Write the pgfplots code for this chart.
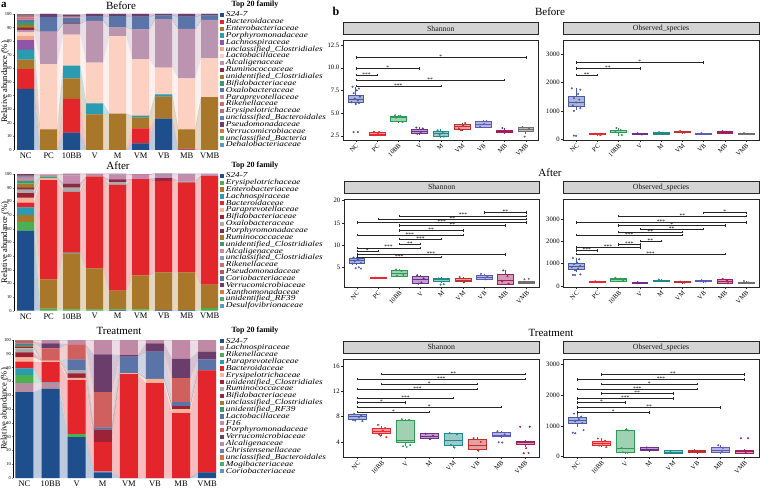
\documentclass[border=0pt]{standalone}
\usepackage{fontspec}
\setmainfont{Liberation Serif}
\newfontfamily\legfont[FakeStretch=1.22]{Liberation Serif}
\usepackage{pgfplots}
\pgfplotsset{compat=1.18}
\usepgfplotslibrary{statistics}

% ---------- colours ----------
\definecolor{B1}{HTML}{1F4E8C}\definecolor{B2}{HTML}{E3262B}\definecolor{B3}{HTML}{A8772A}\definecolor{B4}{HTML}{2A9BB0}
\definecolor{B5}{HTML}{8E55A8}\definecolor{B6}{HTML}{F4A58A}\definecolor{B7}{HTML}{FCD1C2}\definecolor{B8}{HTML}{B995B0}
\definecolor{B9}{HTML}{8B2A45}\definecolor{B10}{HTML}{A57A2A}\definecolor{B11}{HTML}{3A9B6A}\definecolor{B12}{HTML}{5B74A8}
\definecolor{B13}{HTML}{C58AAE}\definecolor{B14}{HTML}{C76F6F}\definecolor{B15}{HTML}{B86E7F}\definecolor{B16}{HTML}{6B7FB5}
\definecolor{B17}{HTML}{6A3D6A}\definecolor{B18}{HTML}{D9763A}\definecolor{B19}{HTML}{4CAF6A}\definecolor{B20}{HTML}{5A9BC0}
\definecolor{A1}{HTML}{1F4E8C}\definecolor{A2}{HTML}{4CB050}\definecolor{A3}{HTML}{A8772A}\definecolor{A4}{HTML}{2A9BB0}
\definecolor{A5}{HTML}{E3262B}\definecolor{A6}{HTML}{F8B49A}\definecolor{A7}{HTML}{9B2335}\definecolor{A8}{HTML}{ABABAB}
\definecolor{A9}{HTML}{8B2A45}\definecolor{A10}{HTML}{A57A2A}\definecolor{A11}{HTML}{3A9B6A}\definecolor{A12}{HTML}{C58AAE}
\definecolor{A13}{HTML}{8A9AB8}\definecolor{A14}{HTML}{C76F6F}\definecolor{A15}{HTML}{B85565}\definecolor{A16}{HTML}{5B74A8}
\definecolor{A17}{HTML}{6A3D6A}\definecolor{A18}{HTML}{D9763A}\definecolor{A19}{HTML}{4CAF6A}\definecolor{A20}{HTML}{5A9BC0}
\definecolor{T1}{HTML}{1F4E8C}\definecolor{T2}{HTML}{B98CA0}\definecolor{T3}{HTML}{4CB050}\definecolor{T4}{HTML}{2A9BB0}
\definecolor{T5}{HTML}{E3262B}\definecolor{T6}{HTML}{F8B49A}\definecolor{T7}{HTML}{9B2335}\definecolor{T8}{HTML}{ABABAB}
\definecolor{T9}{HTML}{8B2A45}\definecolor{T10}{HTML}{A57A2A}\definecolor{T11}{HTML}{3A9B6A}\definecolor{T12}{HTML}{5B74A8}
\definecolor{T13}{HTML}{C58AAE}\definecolor{T14}{HTML}{D0605E}\definecolor{T15}{HTML}{6A3D6A}\definecolor{T16}{HTML}{C08AA6}
\definecolor{T17}{HTML}{6B7FB5}\definecolor{T18}{HTML}{D9763A}\definecolor{T19}{HTML}{4CAF6A}\definecolor{T20}{HTML}{5A9BC0}
\definecolor{cbA}{HTML}{4A5AA8}\definecolor{cbB}{HTML}{E8282B}\definecolor{cbC}{HTML}{2E9A57}
\definecolor{cbD}{HTML}{6E2E8E}\definecolor{cbE}{HTML}{1E8A8A}\definecolor{cbF}{HTML}{C0302E}
\definecolor{cbG}{HTML}{5C5CB8}\definecolor{cbH}{HTML}{A0205E}\definecolor{cbI}{HTML}{6F6F6F}

% ---------- panel a data (relative abundance, %) ----------
% Before: NC,PC,10BB,V,M,VM,VB,MB,VMB
\def\BfA{45,0,12.7,0,0,4.9,23,0.3,0}
\def\BfB{14.5,0,24.8,0,0,11,0,0.7,0}
\def\BfC{7,15.2,15.2,26.2,26.7,8.1,16.2,14.2,38.8}
\def\BfD{7.3,0,9.3,8.1,0,1.2,1.7,0,0}
\def\BfE{7,0,0,0,0,0,0,0,0}
\def\BfF{3,0,0,0,0,0,0,0,0}
\def\BfG{2.7,48,22.8,29.9,57.1,41.5,19.6,37.5,28.6}
\def\BfH{1.5,23.8,7.8,30.8,6.4,22,35.8,36.3,28.2}
\def\BfI{2,0,0.5,0,0,0,0,0,0}
\def\BfJ{2,0,0,0,0,0,0,0,0}
\def\BfK{2,0,0,0,0,0,0,0,0}
\def\BfL{1.5,10.8,4,3,8.3,9.3,2.7,9,3.4}
\def\BfM{1,0,0.5,0,0,0,0,0,0}
\def\BfN{1,0,0.5,0,0,0,0,0,0}
\def\BfO{1,0,0,0,0,0,0,0,0}
\def\BfP{0.5,0,0,0,0,0,0,0,0}
\def\BfQ{0.5,2.2,1.5,2,1.5,2,1,2,1}
\def\BfR{0.2,0,0,0,0,0,0,0,0}
\def\BfS{0.2,0,0,0,0,0,0,0,0}
\def\BfT{0.1,0,0,0,0,0,0,0,0}
% After
\def\AfA{58.5,0,0,0,0.5,0,0.5,0.5,0}
\def\AfB{6.5,1.5,1,1,0.5,1,0,0,2}
\def\AfC{5,21.4,41,30,13.6,24.9,27.5,27.5,17}
\def\AfD{5.5,0,0.5,0,0,0,0,0,0}
\def\AfE{3.5,72.7,44.5,67,77.4,70.4,66.9,65.9,79.5}
\def\AfF{3.7,1,0,0,0,0,0,0,0}
\def\AfG{3.2,0,0,0,0,0,0,0,0}
\def\AfH{2.6,0.5,3,0,2,0,0,1,0}
\def\AfI{1.5,0,3,0,2,0,2,0,0}
\def\AfJ{3,0,0,0,0,0,0,0,0}
\def\AfK{2,1,0,0,0,0,0,0,0}
\def\AfL{2,1,6,1.5,3.5,3,2.5,4.5,1.2}
\def\AfM{1,0,0.5,0,0.5,0,0.5,0.3,0}
\def\AfN{0.8,0,0,0,0,0,0,0,0}
\def\AfO{0.4,0.5,0.5,0.5,0,0.5,0.3,0.3,0.3}
\def\AfP{0.3,0,0,0,0,0,0,0,0}
\def\AfQ{0.2,0,0,0,0,0,0,0,0}
\def\AfR{0.1,0,0,0,0,0,0,0,0}
\def\AfS{0.1,0,0,0,0,0,0,0,0}
\def\AfT{0.1,0,0,0,0,0,0,0,0}
% Treatment: NC,10BB,V,M,VM,VB,MB,VMB
\def\TrA{62.2,64.6,29.6,4.1,0,0,0,4}
\def\TrB{6.5,4.6,0,0.9,0,0,0,0}
\def\TrC{6,0,2.2,0,0,0,0,0}
\def\TrD{4.8,0.3,0,0,0,0,0,0}
\def\TrE{4.8,14.4,39.2,21,75.2,68.7,47,74}
\def\TrF{3.2,1.1,1.5,0,0.8,3.1,3,0}
\def\TrG{3.5,0,3.4,9,0,0,2,0}
\def\TrH{3,0,2,0,0,0,0,0}
\def\TrI{0.7,0,0,0,0,0,0,0}
\def\TrJ{1,0,0,0,0,0,0,0}
\def\TrK{0.8,0,0,0,0,0,0,0}
\def\TrL{0.8,0,8,1.6,12,19.8,2.9,8}
\def\TrM{0.6,0,0,0,0,0,0,0}
\def\TrN{0.5,9,11,25.6,0,0,17.4,0}
\def\TrO{0.4,3.5,0,27.4,1,6,14,5.5}
\def\TrP{0.4,2.5,3,10.4,11,2.4,13.7,8.5}
\def\TrQ{0.3,0,0,0,0,0,0,0}
\def\TrR{0.2,0,0,0,0,0,0,0}
\def\TrS{0.2,0,0,0,0,0,0,0}
\def\TrT{0.1,0,0,0,0,0,0,0}

% ---------- helpers ----------
\def\mkN#1,#2,#3,#4,#5,#6,#7,#8,#9\relax{%
 \def\flowc{(0.63,#1)(1.37,#1)(1.63,#2)(2.37,#2)(2.63,#3)(3.37,#3)(3.63,#4)(4.37,#4)(4.63,#5)(5.37,#5)(5.63,#6)(6.37,#6)(6.63,#7)(7.37,#7)(7.63,#8)(8.37,#8)(8.63,#9)(9.37,#9)}%
 \def\barc{(1,#1)(2,#2)(3,#3)(4,#4)(5,#5)(6,#6)(7,#7)(8,#8)(9,#9)}}
\def\mkE#1,#2,#3,#4,#5,#6,#7,#8\relax{%
 \def\flowc{(0.655,#1)(1.345,#1)(1.655,#2)(2.345,#2)(2.655,#3)(3.345,#3)(3.655,#4)(4.345,#4)(4.655,#5)(5.345,#5)(5.655,#6)(6.345,#6)(6.655,#7)(7.345,#7)(7.655,#8)(8.345,#8)}%
 \def\barc{(1,#1)(2,#2)(3,#3)(4,#4)(5,#5)(6,#6)(7,#7)(8,#8)}}
\newcommand\F[3]{\expandafter#1#3\relax
 \edef\tmp{\noexpand\addplot[fill=#2,draw=none] coordinates {\flowc} \noexpand\closedcycle;}\tmp}
\newcommand\B[4]{\expandafter#1#3\relax
 \edef\tmp{\noexpand\addplot[fill=#2,draw=none] coordinates {\barc};}\tmp
 \addlegendentry{#4}}
\newcommand\bx[7]{\addplot[color=#7, line width=0.55pt,
  boxplot prepared={draw direction=y, draw position=#1, lower whisker=#2, lower quartile=#3, median=#4,
  upper quartile=#5, upper whisker=#6, box extend=0.75, whisker extend=0},
  boxplot/every box/.style={fill=#7, fill opacity=0.45},
  boxplot/every median/.style={line width=0.8pt}] coordinates {};}
\newcommand\pts[2]{\addplot[only marks, mark=*, mark size=0.8pt, color=#1] coordinates {#2};}
\newcommand\br[4]{\addplot[black!85, line width=0.45pt, mark=|, mark size=1.2pt] coordinates {(#1,#3)(#2,#3)}
  node[pos=0.5, anchor=south, inner sep=0pt, yshift=-1.4pt, font=\fontsize{5.5}{5.5}\selectfont, text=black] {#4};}

\pgfplotsset{
 every axis/.append style={/pgf/number format/assume math mode=true},
 flowax/.style={scale only axis, anchor=south west, ymin=0, ymax=100, stack plots=y, hide axis,
   every axis plot/.append style={fill opacity=0.3}},
 barax/.style={scale only axis, anchor=south west, ymin=0, ymax=100, ybar stacked,
   axis y line*=left, axis x line*=bottom, axis line style={-}, x axis line style={draw=none},
   xtick style={draw=none}, y axis line style={line width=0.4pt},
   ytick={0,10,...,100}, yticklabel style={font=\fontsize{4.5}{5}\selectfont, inner sep=0.8pt},
   xticklabel style={font=\fontsize{8.5}{9}\selectfont, inner sep=1pt},
   tick align=outside, major tick length=1.5pt, ytick style={line width=0.3pt},
   ylabel={Relative abundance (\%)},
   ylabel style={at={(axis description cs:-0.044,0.5)}, anchor=center, font=\fontsize{8.5}{9}\selectfont},
   legend cell align=left,
   legend style={draw=none, fill=none, font=\legfont\itshape\fontsize{7.6}{6.84}\selectfont, inner sep=0pt,
     row sep=0pt, column sep=1.6pt, xshift=1pt, nodes={inner sep=0pt, text height=5.2pt, text depth=1.64pt}},
   legend image code/.code={\fill[##1] (0pt,-2pt) rectangle (4.2pt,2.2pt);}},
 bax/.style={scale only axis, anchor=south west,
   axis line style={black!85, line width=0.5pt},
   tick pos=left, tick align=outside, major tick length=2pt, tick style={black!85, line width=0.4pt},
   xticklabel style={rotate=45, anchor=north east, font=\fontsize{6.5}{7}\selectfont, inner sep=0.8pt},
   yticklabel style={font=\fontsize{6.7}{7}\selectfont, inner sep=1.5pt},
   xtick={1,...,9}, xticklabels={NC,PC,10BB,V,M,VM,VB,MB,VMB}, xmin=0.4, xmax=9.6,
   title style={at={(0.5,1)}, anchor=south, inner sep=0pt, minimum height=11.7pt, fill=black!17,
     draw=black!85, line width=0.5pt, font=\fontsize{7.8}{8}\selectfont, text=black!90},
   clip=false},
 baxT/.style={bax, xtick={1,...,8}, xticklabels={NC,10BB,V,M,VM,VB,MB,VMB}, xmin=0.4, xmax=8.6},
}

\begin{document}
\begin{tikzpicture}
\useasboundingbox (0,0) rectangle (760pt,490pt);

% ================= panel a : Before =================
\begin{axis}[flowax, at={(14.2pt,340pt)}, width=204.7pt, height=136pt, xmin=0.5, xmax=9.4]
\F\mkN{B1}\BfA \F\mkN{B2}\BfB \F\mkN{B3}\BfC \F\mkN{B4}\BfD \F\mkN{B5}\BfE
\F\mkN{B6}\BfF \F\mkN{B7}\BfG \F\mkN{B8}\BfH \F\mkN{B9}\BfI \F\mkN{B10}\BfJ
\F\mkN{B11}\BfK \F\mkN{B12}\BfL \F\mkN{B13}\BfM \F\mkN{B14}\BfN \F\mkN{B15}\BfO
\F\mkN{B16}\BfP \F\mkN{B17}\BfQ \F\mkN{B18}\BfR \F\mkN{B19}\BfS \F\mkN{B20}\BfT
\end{axis}
\begin{axis}[barax, at={(14.2pt,340pt)}, width=204.7pt, height=136pt, xmin=0.5, xmax=9.4, bar width=0.74,
  xtick={1,...,9}, xticklabels={NC,PC,10BB,V,M,VM,VB,MB,VMB},
  legend style={at={(1,1.018)}, anchor=north west}]
\B\mkN{B1}\BfA{S24-7}
\B\mkN{B2}\BfB{Bacteroidaceae}
\B\mkN{B3}\BfC{Enterobacteriaceae}
\B\mkN{B4}\BfD{Porphyromonadaceae}
\B\mkN{B5}\BfE{Lachnospiraceae}
\B\mkN{B6}\BfF{unclassified\_Clostridiales}
\B\mkN{B7}\BfG{Lactobacillaceae}
\B\mkN{B8}\BfH{Alcaligenaceae}
\B\mkN{B9}\BfI{Ruminococcaceae}
\B\mkN{B10}\BfJ{unidentified\_Clostridiales}
\B\mkN{B11}\BfK{Bifidobacteriaceae}
\B\mkN{B12}\BfL{Oxalobacteraceae}
\B\mkN{B13}\BfM{Paraprevotellaceae}
\B\mkN{B14}\BfN{Rikenellaceae}
\B\mkN{B15}\BfO{Erysipelotrichaceae}
\B\mkN{B16}\BfP{unclassified\_Bacteroidales}
\B\mkN{B17}\BfQ{Pseudomonadaceae}
\B\mkN{B18}\BfR{Verrucomicrobiaceae}
\B\mkN{B19}\BfS{unclassified\_Bacteria}
\B\mkN{B20}\BfT{Dehalobacteriaceae}
\end{axis}

% ================= panel a : After =================
\begin{axis}[flowax, at={(14.2pt,179.3pt)}, width=204.7pt, height=136.7pt, xmin=0.5, xmax=9.4]
\F\mkN{A1}\AfA \F\mkN{A2}\AfB \F\mkN{A3}\AfC \F\mkN{A4}\AfD \F\mkN{A5}\AfE
\F\mkN{A6}\AfF \F\mkN{A7}\AfG \F\mkN{A8}\AfH \F\mkN{A9}\AfI \F\mkN{A10}\AfJ
\F\mkN{A11}\AfK \F\mkN{A12}\AfL \F\mkN{A13}\AfM \F\mkN{A14}\AfN \F\mkN{A15}\AfO
\F\mkN{A16}\AfP \F\mkN{A17}\AfQ \F\mkN{A18}\AfR \F\mkN{A19}\AfS \F\mkN{A20}\AfT
\end{axis}
\begin{axis}[barax, at={(14.2pt,179.3pt)}, width=204.7pt, height=136.7pt, xmin=0.5, xmax=9.4, bar width=0.74,
  xtick={1,...,9}, xticklabels={NC,PC,10BB,V,M,VM,VB,MB,VMB},
  legend style={at={(1,1.012)}, anchor=north west}]
\B\mkN{A1}\AfA{S24-7}
\B\mkN{A2}\AfB{Erysipelotrichaceae}
\B\mkN{A3}\AfC{Enterobacteriaceae}
\B\mkN{A4}\AfD{Lachnospiraceae}
\B\mkN{A5}\AfE{Bacteroidaceae}
\B\mkN{A6}\AfF{Paraprevotellaceae}
\B\mkN{A7}\AfG{Bifidobacteriaceae}
\B\mkN{A8}\AfH{Oxalobacteraceae}
\B\mkN{A9}\AfI{Porphyromonadaceae}
\B\mkN{A10}\AfJ{Ruminococcaceae}
\B\mkN{A11}\AfK{unidentified\_Clostridiales}
\B\mkN{A12}\AfL{Alcaligenaceae}
\B\mkN{A13}\AfM{unclassified\_Clostridiales}
\B\mkN{A14}\AfN{Rikenellaceae}
\B\mkN{A15}\AfO{Pseudomonadaceae}
\B\mkN{A16}\AfP{Coriobacteriaceae}
\B\mkN{A17}\AfQ{Verrucomicrobiaceae}
\B\mkN{A18}\AfR{Xanthomonadaceae}
\B\mkN{A19}\AfS{unidentified\_RF39}
\B\mkN{A20}\AfT{Desulfovibrionaceae}
\end{axis}

% ================= panel a : Treatment =================
\begin{axis}[flowax, at={(13.5pt,12pt)}, width=205.4pt, height=138pt, xmin=0.58, xmax=8.45]
\F\mkE{T1}\TrA \F\mkE{T2}\TrB \F\mkE{T3}\TrC \F\mkE{T4}\TrD \F\mkE{T5}\TrE
\F\mkE{T6}\TrF \F\mkE{T7}\TrG \F\mkE{T8}\TrH \F\mkE{T9}\TrI \F\mkE{T10}\TrJ
\F\mkE{T11}\TrK \F\mkE{T12}\TrL \F\mkE{T13}\TrM \F\mkE{T14}\TrN \F\mkE{T15}\TrO
\F\mkE{T16}\TrP \F\mkE{T17}\TrQ \F\mkE{T18}\TrR \F\mkE{T19}\TrS \F\mkE{T20}\TrT
\end{axis}
\begin{axis}[barax, at={(13.5pt,12pt)}, width=205.4pt, height=138pt, xmin=0.58, xmax=8.45, bar width=0.69,
  xtick={1,...,8}, xticklabels={NC,10BB,V,M,VM,VB,MB,VMB},
  legend style={at={(1,1.017)}, anchor=north west}]
\B\mkE{T1}\TrA{S24-7}
\B\mkE{T2}\TrB{Lachnospiraceae}
\B\mkE{T3}\TrC{Rikenellaceae}
\B\mkE{T4}\TrD{Paraprevotellaceae}
\B\mkE{T5}\TrE{Bacteroidaceae}
\B\mkE{T6}\TrF{Erysipelotrichaceae}
\B\mkE{T7}\TrG{unidentified\_Clostridiales}
\B\mkE{T8}\TrH{Ruminococcaceae}
\B\mkE{T9}\TrI{Bifidobacteriaceae}
\B\mkE{T10}\TrJ{unclassified\_Clostridiales}
\B\mkE{T11}\TrK{unidentified\_RF39}
\B\mkE{T12}\TrL{Lactobacillaceae}
\B\mkE{T13}\TrM{F16}
\B\mkE{T14}\TrN{Porphyromonadaceae}
\B\mkE{T15}\TrO{Verrucomicrobiaceae}
\B\mkE{T16}\TrP{Alcaligenaceae}
\B\mkE{T17}\TrQ{Christensenellaceae}
\B\mkE{T18}\TrR{unclassified\_Bacteroidales}
\B\mkE{T19}\TrS{Mogibacteriaceae}
\B\mkE{T20}\TrT{Coriobacteriaceae}
\end{axis}

% titles panel a
\node[font=\fontsize{11}{12}\selectfont] at (121pt,484pt) {Before};
\node[font=\fontsize{11}{12}\selectfont] at (118pt,324.5pt) {After};
\node[font=\fontsize{11}{12}\selectfont] at (119pt,159.5pt) {Treatment};
\node[font=\bfseries\fontsize{8}{9}\selectfont] at (255pt,485pt) {Top 20 family};
\node[font=\bfseries\fontsize{8}{9}\selectfont] at (255pt,324pt) {Top 20 family};
\node[font=\bfseries\fontsize{8}{9}\selectfont] at (255pt,159pt) {Top 20 family};
\node[font=\bfseries\fontsize{11}{12}\selectfont] at (4pt,485pt) {a};
\node[font=\bfseries\fontsize{12}{13}\selectfont] at (336pt,479pt) {b};
% titles panel b
\node[font=\fontsize{11}{12}\selectfont] at (550pt,478pt) {Before};
\node[font=\fontsize{11}{12}\selectfont] at (550pt,317pt) {After};
\node[font=\fontsize{11}{12}\selectfont] at (551pt,157pt) {Treatment};

% ================= panel b : Before Shannon =================
\begin{axis}[bax, at={(343pt,350pt)}, width=195.5pt, height=99.5pt, ymin=2.03, ymax=13.0,
  ytick={2.5,5,7.5,10,12.5}, yticklabels={2.5,5.0,7.5,10.0,12.5},
  title={Shannon}, title style={minimum width=195.5pt}]
\bx{1}{5.99}{6.14}{6.55}{6.99}{7.9}{cbA}
\pts{cbA}{(0.85,7.9)(1.15,7.7)(1.05,7.5)(0.9,7.2)(1.2,6.8)(0.95,6.6)(1.1,6.4)(0.8,6.2)(1.0,6.0)(1.15,6.1)(0.9,2.9)(1.1,2.9)}
\bx{2}{2.5}{2.6}{2.7}{2.83}{2.95}{cbB}
\pts{cbB}{(1.85,2.95)(2.1,2.9)(2.2,2.6)(1.9,2.55)(2.05,2.7)}
\bx{3}{3.95}{4.05}{4.53}{4.67}{4.8}{cbC}
\pts{cbC}{(2.85,4.75)(3.1,4.7)(3.2,4.0)(2.9,4.5)(3.05,4.6)}
\bx{4}{2.6}{2.76}{2.95}{3.24}{3.45}{cbD}
\pts{cbD}{(3.85,3.4)(4.15,3.3)(4.05,2.9)(3.9,2.7)}
\bx{5}{2.3}{2.47}{2.75}{3.02}{3.2}{cbE}
\pts{cbE}{(4.85,3.1)(5.1,2.9)(5.15,2.4)(4.95,2.6)}
\bx{6}{3.0}{3.2}{3.5}{3.79}{3.95}{cbF}
\pts{cbF}{(5.85,3.3)(6.15,3.9)(6.05,3.6)(5.95,3.1)}
\bx{7}{3.3}{3.43}{3.75}{4.05}{4.2}{cbG}
\pts{cbG}{(6.85,3.5)(7.15,4.1)(7.05,3.8)}
\bx{8}{2.75}{2.83}{3.0}{3.13}{3.4}{cbH}
\pts{cbH}{(7.9,3.35)(8.1,3.0)(8.15,2.9)}
\bx{9}{2.7}{3.02}{3.2}{3.43}{3.5}{cbI}
\pts{cbI}{(8.85,3.45)(9.15,3.3)(8.95,2.4)}
\br{1}{9}{11.14}{*}
\br{1}{4}{9.93}{*}
\br{1}{2}{9.19}{***}
\br{1}{8}{8.64}{**}
\br{1}{5}{7.98}{***}
\end{axis}

% ================= panel b : Before Observed =================
\begin{axis}[bax, at={(563.3pt,350pt)}, width=195.5pt, height=99.5pt, ymin=-25, ymax=3487,
  ytick={0,1000,2000,3000}, yticklabels={0,1000,2000,3000},
  title={Observed\_species}, title style={minimum width=195.5pt}]
\bx{1}{1035}{1175}{1300}{1507}{1800}{cbA}
\pts{cbA}{(0.8,1800)(1.2,1750)(1.1,1600)(0.9,1450)(1.15,1400)(1.0,1300)(0.85,1200)(1.2,1100)(0.9,1000)(1.0,120)(0.9,130)}
\bx{2}{140}{160}{180}{200}{220}{cbB}
\pts{cbB}{(1.9,200)(2.1,170)(2.15,150)}
\bx{3}{130}{250}{300}{330}{400}{cbC}
\pts{cbC}{(2.9,400)(3.1,320)(3.15,150)(2.85,260)}
\bx{4}{150}{170}{190}{210}{230}{cbD}
\pts{cbD}{(3.9,210)(4.1,170)}
\bx{5}{170}{190}{220}{240}{260}{cbE}
\pts{cbE}{(4.9,250)(5.1,200)}
\bx{6}{210}{230}{260}{280}{300}{cbF}
\pts{cbF}{(5.9,290)(6.1,240)}
\bx{7}{160}{180}{200}{215}{230}{cbG}
\pts{cbG}{(6.9,220)(7.1,180)}
\bx{8}{200}{220}{250}{280}{300}{cbH}
\pts{cbH}{(7.9,290)(8.1,230)}
\bx{9}{160}{180}{200}{215}{230}{cbI}
\pts{cbI}{(8.9,220)(9.1,190)}
\br{1}{7}{2704}{*}
\br{1}{4}{2505}{**}
\br{1}{2}{2270}{**}
\end{axis}

% ================= panel b : After Shannon =================
\begin{axis}[bax, at={(344pt,202.7pt)}, width=195.3pt, height=88pt, ymin=0.5, ymax=20.3,
  ytick={5,10,15,20}, yticklabels={5,10,15,20},
  title={Shannon}, title style={minimum width=195.3pt}]
\bx{1}{5.5}{5.86}{6.5}{6.99}{7.3}{cbA}
\pts{cbA}{(0.85,7.2)(1.15,7.0)(1.05,6.7)(0.9,6.3)(1.2,6.0)(0.8,5.8)(0.95,4.8)(1.2,4.7)(1.1,5.0)}
\bx{2}{2.4}{2.5}{2.65}{2.8}{2.9}{cbB}
\pts{cbB}{(1.9,2.7)(2.1,2.6)}
\bx{3}{3.0}{3.05}{3.65}{4.4}{4.6}{cbC}
\pts{cbC}{(2.85,4.5)(3.1,4.2)(3.2,3.3)(2.9,3.1)}
\bx{4}{1.2}{1.5}{2.3}{2.9}{3.3}{cbD}
\pts{cbD}{(3.85,3.2)(4.15,2.5)(4.05,1.6)(3.9,1.3)}
\bx{5}{1.5}{1.9}{2.2}{2.6}{2.8}{cbE}
\pts{cbE}{(4.85,2.5)(5.1,1.2)(4.95,1.1)}
\bx{6}{1.5}{1.8}{2.1}{2.6}{2.9}{cbF}
\pts{cbF}{(5.85,2.8)(6.15,2.0)(6.05,1.6)}
\bx{7}{2.1}{2.4}{2.8}{3.3}{3.6}{cbG}
\pts{cbG}{(6.85,3.5)(7.15,3.0)(7.05,2.3)}
\bx{8}{1.1}{1.19}{2.0}{3.49}{4.3}{cbH}
\pts{cbH}{(7.9,4.3)(8.1,3.0)(8.15,1.3)(7.85,1.8)}
\bx{9}{1.3}{1.5}{1.7}{1.9}{2.0}{cbI}
\pts{cbI}{(9.1,2.4)(8.9,2.3)(9.15,1.6)}
\br{7}{9}{17.3}{**}
\br{3}{9}{16.6}{***}
\br{2}{9}{15.8}{**}
\br{1}{9}{15.1}{***}
\br{3}{8}{14.4}{**}
\br{3}{6}{13.3}{**}
\br{1}{6}{12.3}{***}
\br{3}{5}{11.4}{***}
\br{3}{4}{10.2}{**}
\br{1}{4}{9.4}{***}
\br{1}{2}{8.7}{*}
\br{1}{8}{7.9}{***}
\br{1}{5}{7.3}{***}
\end{axis}

% ================= panel b : After Observed =================
\begin{axis}[bax, at={(563.3pt,202.7pt)}, width=195.5pt, height=88pt, ymin=-58, ymax=3882,
  ytick={0,1000,2000,3000}, yticklabels={0,1000,2000,3000},
  title={Observed\_species}, title style={minimum width=195.5pt}]
\bx{1}{620}{761}{895}{1016}{1250}{cbA}
\pts{cbA}{(0.85,1250)(1.15,1200)(1.05,1050)(0.9,980)(1.2,900)(0.8,850)(1.1,780)(0.95,700)(0.85,500)(0.95,490)(1.2,520)}
\bx{2}{150}{170}{190}{210}{230}{cbB}
\pts{cbB}{(1.9,210)(2.1,180)}
\bx{3}{200}{230}{280}{330}{380}{cbC}
\pts{cbC}{(2.85,370)(3.1,330)(3.2,240)}
\bx{4}{110}{130}{150}{170}{190}{cbD}
\pts{cbD}{(3.9,170)(4.1,130)}
\bx{5}{180}{210}{240}{270}{300}{cbE}
\pts{cbE}{(4.9,290)(5.1,220)}
\bx{6}{130}{150}{170}{190}{210}{cbF}
\pts{cbF}{(5.9,200)(6.1,150)}
\bx{7}{170}{190}{220}{250}{280}{cbG}
\pts{cbG}{(6.9,260)(7.1,200)}
\bx{8}{90}{120}{200}{290}{330}{cbH}
\pts{cbH}{(7.9,320)(8.1,250)(8.15,120)}
\bx{9}{110}{130}{150}{170}{220}{cbI}
\pts{cbI}{(8.9,220)(9.1,160)}
\br{7}{9}{3282}{*}
\br{3}{9}{3134}{**}
\br{1}{9}{2852}{***}
\br{3}{8}{2700}{*}
\br{4}{7}{2552}{**}
\br{3}{6}{2418}{**}
\br{1}{6}{2284}{***}
\br{4}{5}{2015}{**}
\br{3}{4}{1867}{***}
\br{1}{4}{1715}{***}
\br{1}{2}{1581}{***}
\br{1}{8}{1420}{***}
\end{axis}

% ================= panel b : Treatment Shannon =================
\begin{axis}[baxT, at={(343.3pt,32.7pt)}, width=196pt, height=98pt, ymin=1.56, ymax=17.1,
  ytick={4,8,12,16}, yticklabels={4,8,12,16},
  title={Shannon}, title style={minimum width=196pt}]
\bx{1}{7.4}{7.63}{8.0}{8.38}{8.5}{cbA}
\pts{cbA}{(0.85,8.45)(1.15,8.2)(1.05,7.9)(0.9,7.37)(1.2,7.3)(0.8,7.5)}
\bx{2}{4.9}{5.3}{5.6}{6.1}{6.5}{cbB}
\pts{cbB}{(1.85,6.7)(2.15,6.2)(2.05,5.8)(1.9,5.2)(2.2,4.75)(1.95,5.0)}
\bx{3}{3.4}{4.0}{4.3}{7.48}{7.6}{cbC}
\pts{cbC}{(2.85,7.6)(3.15,7.5)(3.05,3.2)(2.9,3.3)(3.2,3.5)}
\bx{4}{4.4}{4.5}{4.9}{5.3}{5.4}{cbD}
\pts{cbD}{(3.85,5.3)(4.15,5.0)(4.05,4.5)}
\bx{5}{3.1}{3.45}{4.3}{5.3}{5.4}{cbE}
\pts{cbE}{(4.85,5.4)(5.15,5.2)(5.05,3.1)(4.9,3.5)}
\bx{6}{2.5}{2.79}{3.4}{4.38}{4.8}{cbF}
\pts{cbF}{(5.85,4.6)(6.15,4.0)(6.05,2.6)}
\bx{7}{4.7}{4.83}{5.1}{5.45}{5.8}{cbG}
\pts{cbG}{(6.85,5.7)(7.15,5.2)(7.05,3.9)(6.9,3.95)}
\bx{8}{3.2}{3.56}{3.87}{4.1}{4.3}{cbH}
\pts{cbH}{(7.8,6.4)(8.2,6.4)(8.05,3.0)(7.95,2.2)(8.15,2.25)}
\br{2}{8}{14.73}{**}
\br{1}{8}{13.94}{***}
\br{2}{6}{13.19}{*}
\br{1}{6}{12.4}{***}
\br{1}{5}{10.92}{***}
\br{1}{3}{10.22}{*}
\br{1}{7}{9.49}{*}
\br{1}{4}{8.7}{*}
\end{axis}

% ================= panel b : Treatment Observed =================
\begin{axis}[baxT, at={(563.3pt,32.7pt)}, width=195.5pt, height=98pt, ymin=-20, ymax=3165,
  ytick={0,1000,2000,3000}, yticklabels={0,1000,2000,3000},
  title={Observed\_species}, title style={minimum width=195.5pt}]
\bx{1}{953}{1083}{1192}{1278}{1408}{cbA}
\pts{cbA}{(0.85,1400)(1.15,1300)(1.05,1220)(0.9,1150)(1.2,1090)(0.8,780)(0.9,760)(1.25,866)}
\bx{2}{303}{357}{422}{488}{596}{cbB}
\pts{cbB}{(1.85,590)(2.15,520)(2.05,430)(1.9,360)(2.2,310)}
\bx{3}{120}{130}{271}{867}{900}{cbC}
\pts{cbC}{(3.05,890)(3.15,850)(2.9,140)(3.1,130)(2.85,280)}
\bx{4}{180}{195}{249}{303}{320}{cbD}
\pts{cbD}{(3.9,300)(4.1,220)}
\bx{5}{90}{108}{152}{195}{210}{cbE}
\pts{cbE}{(4.9,190)(5.1,120)}
\bx{6}{110}{130}{173}{217}{230}{cbF}
\pts{cbF}{(5.9,210)(6.1,150)}
\bx{7}{100}{130}{217}{303}{379}{cbG}
\pts{cbG}{(6.9,370)(7.1,290)(7.05,150)}
\bx{8}{90}{108}{163}{217}{240}{cbH}
\pts{cbH}{(7.85,600)(8.15,600)(8.05,150)}
\br{2}{8}{2676}{**}
\br{1}{8}{2514}{***}
\br{2}{6}{2362}{*}
\br{1}{6}{2199}{***}
\br{2}{5}{2058}{**}
\br{1}{5}{1896}{***}
\br{1}{3}{1755}{*}
\br{1}{7}{1593}{**}
\br{1}{4}{1441}{*}
\end{axis}
\end{tikzpicture}
\end{document}
